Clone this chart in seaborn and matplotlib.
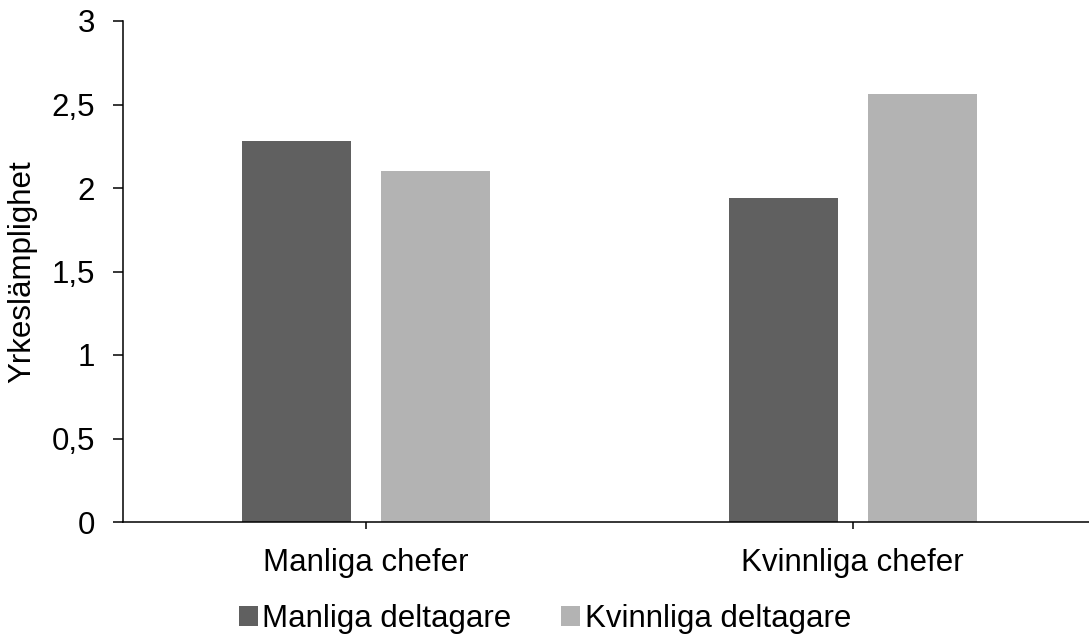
import matplotlib
matplotlib.use("Agg")
import matplotlib.pyplot as plt
import matplotlib.ticker as mticker
import pandas as pd
import seaborn as sns

# data
chefer = ["Manliga chefer", "Kvinnliga chefer"]
deltagare = ["Manliga deltagare", "Kvinnliga deltagare"]
manliga_deltagare = [2.28, 1.94]
kvinnliga_deltagare = [2.10, 2.56]
yticks = [0, 0.5, 1, 1.5, 2, 2.5, 3]

colors = ["#606060", "#b3b3b3"]


def main():
    sns.set_theme(style="white")
    plt.rcParams["font.family"] = ["Liberation Sans", "DejaVu Sans"]
    plt.rcParams["text.color"] = "black"
    plt.rcParams["axes.labelcolor"] = "black"
    plt.rcParams["xtick.color"] = "black"
    plt.rcParams["ytick.color"] = "black"

    df = pd.DataFrame({
        "chef": chefer * 2,
        "deltagare": [deltagare[0]] * 2 + [deltagare[1]] * 2,
        "val": manliga_deltagare + kvinnliga_deltagare,
    })

    fig = plt.figure(figsize=(10.89, 6.39), dpi=100)
    # right edge of the axis runs slightly past the image, as in the original
    ax = fig.add_axes([123 / 1089, 1 - 522 / 639, (1096 - 123) / 1089, (522 - 21) / 639])

    sns.barplot(data=df, x="chef", y="val", hue="deltagare", order=chefer,
                hue_order=deltagare, palette=colors, width=0.571, gap=0.217,
                linewidth=0, saturation=1, ax=ax, legend=True)

    ax.set_xlim(-0.5, 1.5)
    ax.set_ylim(0, 3)
    ax.set_yticks(yticks)
    ax.yaxis.set_major_formatter(
        mticker.FuncFormatter(lambda v, p: ("%g" % v).replace(".", ",")))
    ax.set_xlabel("")
    ax.set_ylabel("Yrkeslämplighet", fontsize=22.5, labelpad=10)
    ax.tick_params(axis="y", labelsize=22.5, length=7.2, width=1.1, color="black",
                   labelcolor="black", direction="out", left=True, pad=13)
    ax.tick_params(axis="x", labelsize=22.5, length=5, width=1.1, color="black",
                   labelcolor="black", direction="out", bottom=True, pad=14)

    sns.despine(ax=ax)
    for s in ["left", "bottom"]:
        ax.spines[s].set_color("black")
        ax.spines[s].set_linewidth(1.1)

    handles, labels = ax.get_legend_handles_labels()
    ax.get_legend().remove()
    fig.legend(handles, labels, loc="center", bbox_to_anchor=(545 / 1089, 1 - 619 / 639),
               ncol=2, frameon=False, fontsize=22.5, handlelength=0.6,
               handleheight=0.6, handletextpad=0.15, columnspacing=1.6,
               borderpad=0)

    fig.savefig("out.png", dpi=100)


if __name__ == "__main__":
    main()
